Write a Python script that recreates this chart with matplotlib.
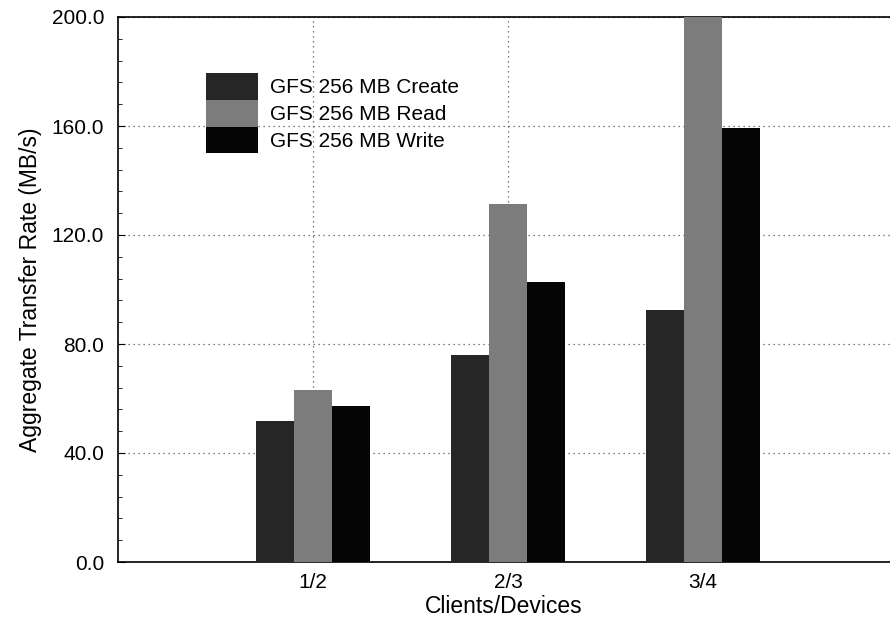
import matplotlib.pyplot as plt
import numpy as np
from matplotlib.ticker import MultipleLocator

plt.rcParams['font.family'] = ['Liberation Sans', 'DejaVu Sans']

# 数据
groups = ['1/2', '2/3', '3/4']
create = [51.8, 76.1, 92.3]
read = [63.2, 131.2, 204.0]
write = [57.4, 102.6, 159.2]
series_names = ['GFS 256 MB Create', 'GFS 256 MB Read', 'GFS 256 MB Write']
colors = ['#262626', '#7c7c7c', '#050505']

fig = plt.figure(figsize=(8.9, 6.22), dpi=100)
ax = fig.add_axes([118 / 890, 60 / 622, 772 / 890, 545 / 622])

x = np.arange(1, len(groups) + 1)
w = 0.194
for i, (vals, name, c) in enumerate(zip([create, read, write], series_names, colors)):
    ax.bar(x + (i - 1) * w, vals, width=w, color=c, label=name, zorder=3)

ax.set_xlim(0, 772 / 195)
ax.set_ylim(0, 200)
ax.set_xticks(x)
ax.set_xticklabels(groups)
ax.yaxis.set_minor_locator(MultipleLocator(8))
ax.set_yticks(np.arange(0, 201, 40))
ax.set_yticklabels(['%.1f' % v for v in np.arange(0, 201, 40)])

ax.tick_params(axis='y', which='major', direction='in', length=5, pad=10, labelsize=15)
ax.tick_params(axis='y', which='minor', direction='in', length=3)
ax.tick_params(axis='x', direction='in', length=0, pad=8, labelsize=15)

ax.grid(True, which='major', linestyle=(0, (1, 3)), color='#555555', linewidth=0.9, zorder=0)
ax.spines['right'].set_visible(False)
for s in ['left', 'top', 'bottom']:
    ax.spines[s].set_linewidth(1.2)

ax.set_xlabel('Clients/Devices', fontsize=16.5, labelpad=2)
ax.set_ylabel('Aggregate Transfer Rate (MB/s)', fontsize=16.5, labelpad=7)

leg = ax.legend(loc='upper left', bbox_to_anchor=((206 - 118) / 772, (562 - 73) / 545),
                frameon=False, fontsize=15, handlelength=2.5, handleheight=1.6,
                labelspacing=0.0, handletextpad=0.55, borderpad=0, borderaxespad=0)

fig.savefig('out.png', dpi=100)
